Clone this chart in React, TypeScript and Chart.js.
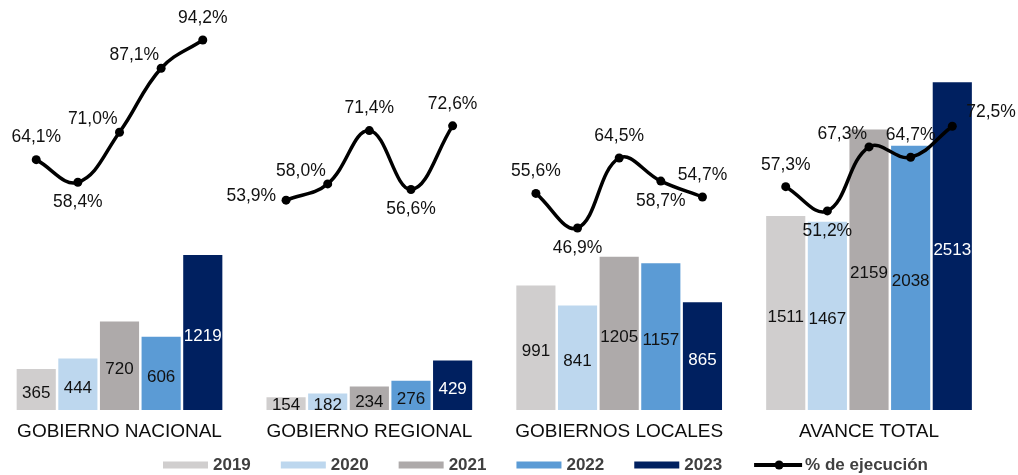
import React, { useEffect, useRef } from 'react';
import { Chart, registerables } from 'chart.js';

Chart.register(...registerables);

// ---- data ----
const categories = ['GOBIERNO NACIONAL', 'GOBIERNO REGIONAL', 'GOBIERNOS LOCALES', 'AVANCE TOTAL'];
const years = ['2019', '2020', '2021', '2022', '2023'];
const values2019 = [365, 154, 991, 1511];
const values2020 = [444, 182, 841, 1467];
const values2021 = [720, 234, 1205, 2159];
const values2022 = [606, 276, 1157, 2038];
const values2023 = [1219, 429, 865, 2513];
const pctNacional = [64.1, 58.4, 71.0, 87.1, 94.2];
const pctRegional = [53.9, 58.0, 71.4, 56.6, 72.6];
const pctLocales = [55.6, 46.9, 64.5, 58.7, 54.7];
const pctTotal = [57.3, 51.2, 67.3, 64.7, 72.5];
const lineLabel = '% de ejecución';

// label anchor for each % point: t=above, b=below, tl=upper-left, l=left, tr=upper-right
const anchorsNacional = ['t', 'b', 'tl', 'tl', 't'];
const anchorsRegional = ['l', 'tl', 't', 'b', 't'];
const anchorsLocales = ['t', 'b', 't', 'b', 't'];
const anchorsTotal = ['t', 'b', 'tl', 't', 'tr'];

// ---- styles ----
const barColors = ['#D0CECE', '#BDD7EE', '#AEAAAA', '#5B9BD5', '#002060'];
const barLabelColors = ['#111111', '#111111', '#111111', '#111111', '#FFFFFF'];
const FONT = '"Liberation Sans", Arial, sans-serif';
const SLOT = 6; // 5 bars + one gap per group

const yearValues = [values2019, values2020, values2021, values2022, values2023];
const pctGroups = [pctNacional, pctRegional, pctLocales, pctTotal];
const anchorGroups = [anchorsNacional, anchorsRegional, anchorsLocales, anchorsTotal];
const groupCenters = categories.map((_, g) => g * SLOT + 2);

const fmtPct = (v: number) => v.toFixed(1).replace('.', ',') + '%';

export default function App() {
  const ref = useRef<HTMLCanvasElement | null>(null);

  useEffect(() => {
    const canvas = ref.current;
    if (!canvas) return;

    const barDatasets = years.map((yr, i) => ({
      type: 'bar' as const,
      label: yr,
      data: yearValues[i].map((v, g) => ({ x: g * SLOT + i, y: v })),
      backgroundColor: barColors[i],
      borderWidth: 0,
      grouped: false,
      barPercentage: 0.94,
      categoryPercentage: 1,
      yAxisID: 'y',
      order: 2,
    }));

    const linePoints: any[] = [];
    const lineAnchors: (string | null)[] = [];
    pctGroups.forEach((arr, g) => {
      arr.forEach((v, i) => {
        linePoints.push({ x: g * SLOT + i, y: v });
        lineAnchors.push(anchorGroups[g][i]);
      });
      if (g < pctGroups.length - 1) {
        linePoints.push({ x: g * SLOT + 5, y: null });
        lineAnchors.push(null);
      }
    });

    const lineDataset = {
      type: 'line' as const,
      label: lineLabel,
      data: linePoints,
      borderColor: '#000000',
      backgroundColor: '#000000',
      borderWidth: 3.5,
      pointRadius: 4.5,
      pointBackgroundColor: '#000000',
      pointBorderWidth: 0,
      tension: 0.4,
      capBezierPoints: false,
      spanGaps: false,
      yAxisID: 'y1',
      order: 1,
    };

    const labelPlugin = {
      id: 'valueLabels',
      afterDatasetsDraw(chart: any) {
        const ctx = chart.ctx;
        ctx.save();
        chart.data.datasets.forEach((ds: any, di: number) => {
          const meta = chart.getDatasetMeta(di);
          if (meta.hidden) return;
          if (meta.type === 'bar') {
            ctx.font = `17px ${FONT}`;
            ctx.fillStyle = barLabelColors[di];
            ctx.textAlign = 'center';
            ctx.textBaseline = 'middle';
            meta.data.forEach((el: any, j: number) => {
              const v = ds.data[j].y;
              const cy = Math.min((el.y + el.base) / 2, el.base - 12);
              ctx.fillText(String(v), el.x, cy);
            });
          } else {
            ctx.font = `17.5px ${FONT}`;
            ctx.fillStyle = '#111111';
            ctx.textBaseline = 'middle';
            meta.data.forEach((el: any, j: number) => {
              const p = ds.data[j];
              const a = lineAnchors[j];
              if (p.y == null || !a) return;
              const t = fmtPct(p.y);
              let x = el.x;
              let y = el.y;
              if (a === 't') { ctx.textAlign = 'center'; y -= 22; }
              else if (a === 'b') { ctx.textAlign = 'center'; y += 20; }
              else if (a === 'tl') { ctx.textAlign = 'right'; x -= 2; y -= 13; }
              else if (a === 'l') { ctx.textAlign = 'right'; x -= 10; y -= 4; }
              else if (a === 'tr') { ctx.textAlign = 'left'; x += 14; y -= 14; }
              ctx.fillText(t, x, y);
            });
          }
        });
        ctx.restore();
      },
    };

    // legend drawn from the chart's datasets
    const legendPlugin = {
      id: 'customLegend',
      afterDraw(chart: any) {
        const ctx = chart.ctx;
        ctx.save();
        ctx.font = `bold 17px ${FONT}`;
        ctx.textBaseline = 'middle';
        ctx.textAlign = 'left';
        const cy = 465;
        let x = 163;
        chart.data.datasets.forEach((ds: any) => {
          if (ds.type === 'line') {
            x += 2;
            ctx.strokeStyle = ds.borderColor;
            ctx.lineWidth = 4;
            ctx.beginPath();
            ctx.moveTo(x, cy);
            ctx.lineTo(x + 48, cy);
            ctx.stroke();
            ctx.fillStyle = ds.borderColor;
            ctx.beginPath();
            ctx.arc(x + 25, cy, 4.5, 0, Math.PI * 2);
            ctx.fill();
            ctx.fillStyle = '#404040';
            ctx.fillText(ds.label, x + 51, cy);
          } else {
            ctx.fillStyle = ds.backgroundColor;
            ctx.fillRect(x, cy - 3.5, 45, 7);
            ctx.fillStyle = '#404040';
            ctx.fillText(ds.label, x + 50, cy);
            x += 50 + ctx.measureText(ds.label).width + 30;
          }
        });
        ctx.restore();
      },
    };

    const chart = new Chart(canvas, {
      type: 'bar',
      data: { datasets: [...barDatasets, lineDataset] as any },
      options: {
        responsive: false,
        maintainAspectRatio: false,
        animation: false,
        devicePixelRatio: 1,
        events: [],
        layout: { padding: 0, autoPadding: false },
        scales: {
          x: {
            type: 'linear',
            min: -0.87,
            max: 23.578,
            offset: false,
            grid: { display: false, drawTicks: false },
            border: { display: false },
            afterBuildTicks: (scale: any) => {
              scale.ticks = groupCenters.map((v) => ({ value: v }));
            },
            afterFit: (scale: any) => {
              scale.height = 65;
            },
            ticks: {
              autoSkip: false,
              maxRotation: 0,
              minRotation: 0,
              padding: 10,
              color: '#0d0d0d',
              font: { family: FONT, size: 19 },
              callback: (value: any) => {
                const idx = groupCenters.indexOf(Number(value));
                return idx >= 0 ? categories[idx] : '';
              },
            },
          },
          y: {
            type: 'linear',
            position: 'left',
            display: false,
            min: 57.7,
            max: 3128.9,
          },
          y1: {
            type: 'linear',
            position: 'right',
            display: false,
            min: 1.12,
            max: 104.26,
          },
        },
        plugins: {
          tooltip: { enabled: false },
          legend: { display: false },
        },
      } as any,
      plugins: [labelPlugin, legendPlugin],
    });

    return () => chart.destroy();
  }, []);

  return (
    <div style={{ position: 'absolute', left: 0, top: 0, width: 1018, height: 475, overflow: 'hidden', background: '#fff' }}>
      <canvas ref={ref} width={1018} height={475} style={{ display: 'block', width: 1018, height: 475 }} />
    </div>
  );
}
